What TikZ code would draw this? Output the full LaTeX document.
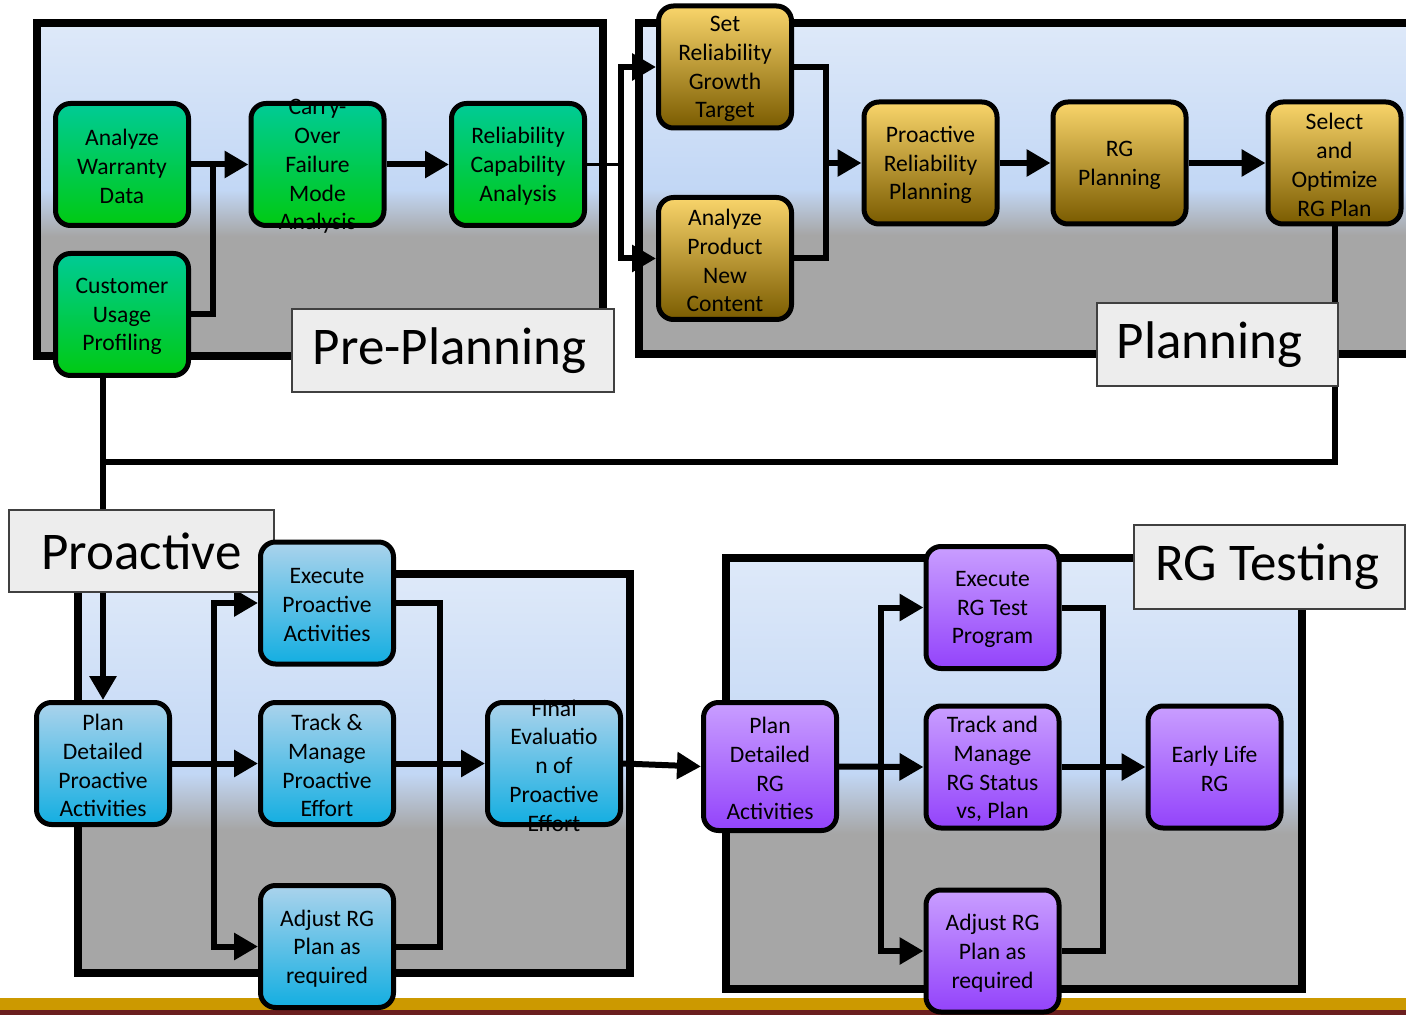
\documentclass[tikz,border=0pt]{standalone}
\usepackage{fontspec}
\setmainfont{Carlito}
\usetikzlibrary{arrows.meta,calc}
\definecolor{contgrey}{HTML}{A6A6A6}
\definecolor{contblueA}{HTML}{DEE9F9}
\definecolor{contblueB}{HTML}{C2D7F5}
\definecolor{lblfill}{HTML}{EDEDED}
\definecolor{lblborder}{HTML}{404040}
\definecolor{gA}{HTML}{00CB96}
\definecolor{gB}{HTML}{00CA12}
\definecolor{oA}{HTML}{F9D56B}
\definecolor{oM}{HTML}{C99A0A}
\definecolor{oB}{HTML}{7A5B00}
\definecolor{cA}{HTML}{ABD3EC}
\definecolor{cM}{HTML}{21D6E0}
\definecolor{cB}{HTML}{13AEE1}
\definecolor{pA}{HTML}{C99EFF}
\definecolor{pB}{HTML}{9343FB}
\definecolor{bargold}{HTML}{CC9900}
\definecolor{barmaroon}{HTML}{6B1F1F}
\pgfdeclareverticalshading{contshade}{100bp}{color(0bp)=(contgrey); color(43bp)=(contgrey); color(50bp)=(contblueB); color(75bp)=(contblueA); color(100bp)=(contblueA)}
\pgfdeclarelayer{bglayer}
\pgfdeclarelayer{connlayer}
\pgfdeclarelayer{lbllayer}
\pgfsetlayers{bglayer,connlayer,lbllayer,main}
\newcommand\bx[1]{\parbox[c][44pt][c]{62pt}{\vspace*{2pt}\centering #1}}
\begin{document}
\begin{tikzpicture}[x=0.5pt,y=-0.5pt,
  conn/.style={line width=3pt},
  arr/.style={line width=3pt,-{Triangle[length=12pt,width=13pt]}},
  cont/.style={draw=black,line width=4pt,shade,shading=contshade},
  lbl/.style={draw=lblborder,fill=lblfill,line width=1pt,inner sep=0pt,font=\fontsize{26.5pt}{30pt}\selectfont},
  box/.style={draw=black,line width=2.5pt,rounded corners=7.5pt,minimum width=66.5pt,minimum height=61pt,inner sep=0pt,font=\fontsize{11.8pt}{14.4pt}\selectfont},
  gbox/.style={box,top color=gA,bottom color=gB},
  obox/.style={box,top color=oA,middle color=oM,bottom color=oB},
  cbox/.style={box,top color=cA,middle color=cM,bottom color=cB},
  pbox/.style={box,top color=pA,bottom color=pB}]
\useasboundingbox (0,0) rectangle (1406,1015);
\clip (0,0) rectangle (1406,1015);
% boxes
\path
  (122,164.5) node[gbox] (aw) {\bx{Analyze\\Warranty\\Data}}
  (317.5,164.5) node[gbox] (co) {\bx{Carry-\\Over\\Failure\\Mode\\Analysis}}
  (518,164.5) node[gbox] (rc) {\bx{Reliability\\Capability\\Analysis}}
  (122,314.5) node[gbox] (cu) {\bx{Customer\\Usage\\Profiling}}
  (725,67) node[obox] (sr) {\bx{Set\\Reliability\\Growth\\Target}}
  (725,258.5) node[obox] (ap) {\bx{Analyze\\Product\\New\\Content}}
  (930.5,163) node[obox] (pr) {\bx{Proactive\\Reliability\\Planning}}
  (1119.5,163) node[obox] (rp) {\bx{RG\\Planning}}
  (1334.5,163) node[obox] (so) {\bx{Select\\and\\Optimize\\RG Plan}}
  (103,763.5) node[cbox] (pd) {\bx{Plan\\Detailed\\Proactive\\Activities}}
  (327,603) node[cbox] (ep) {\bx{Execute\\Proactive\\Activities}}
  (327,763.5) node[cbox] (tm) {\bx{Track \&\\Manage\\Proactive\\Effort}}
  (554,763.5) node[cbox] (fe) {\bx{Final\\Evaluatio\\n of\\Proactive\\Effort}}
  (327,946.5) node[cbox] (ar) {\bx{Adjust RG\\Plan as\\required}}
  (770,766.5) node[pbox,minimum height=64pt] (prg) {\bx{Plan\\Detailed\\RG\\Activities}}
  (992.5,607.5) node[pbox] (ert) {\bx{Execute\\RG Test\\Program}}
  (992.5,767) node[pbox] (trg) {\bx{Track and\\Manage\\RG Status\\vs, Plan}}
  (1214.5,767) node[pbox] (el) {\bx{Early Life\\RG}}
  (992.5,951) node[pbox] (arg) {\bx{Adjust RG\\Plan as\\required}};
% background: bar and containers
\begin{pgfonlayer}{bglayer}
\fill[bargold] (0,998) rectangle (1406,1010);
\fill[barmaroon] (0,1010) rectangle (1406,1015);
\draw[cont] (36.5,23.5) rectangle (602.5,356);
\draw[cont] (638.5,23) rectangle (1420,354.5);
\draw[cont] (78,574) rectangle (629.5,973);
\draw[cont] (726,557.5) rectangle (1301.5,989);
\end{pgfonlayer}
% labels
\begin{pgfonlayer}{lbllayer}
\node[lbl,minimum width=161pt,minimum height=41.5pt] (lpre) at (453,350.5) {Pre-Planning\hspace*{3.5pt}};
\node[lbl,minimum width=120.5pt,minimum height=41.5pt] (lplan) at (1217.5,344.5) {Planning\hspace*{8pt}};
\node[lbl,minimum width=132.5pt,minimum height=41pt] (lpro) at (141.5,551) {Proactive};
\node[lbl,minimum width=135.5pt,minimum height=42pt] (lrgt) at (1269.5,567) {RG Testing\hspace*{2pt}};
\end{pgfonlayer}
% connectors
\begin{pgfonlayer}{connlayer}
\coordinate (j1) at (213,164.5);
\coordinate (j2) at (621,164.5);
\coordinate (j3) at (826,163);
\coordinate (j4) at (103,462);
\coordinate (k1) at (214,763.5);
\coordinate (k2) at (440,763.5);
\coordinate (m1) at (881,766.5);
\coordinate (m2) at (1103,767);
% pre-planning
\draw[arr] (aw.east) -- (co.west);
\draw[conn] (cu.east) -| (j1);
\draw[arr] (co.east) -- (rc.west);
\draw[line width=1.5pt] (rc.east) -- (j2);
\draw[arr] (j2) |- (sr.west);
\draw[arr] (j2) |- (ap.west);
% planning
\draw[conn] (sr.east) -| (j3);
\draw[conn] (ap.east) -| (j3);
\draw[arr] (j3) -- (pr.west);
\draw[arr] (pr.east) -- (rp.west);
\draw[arr] (rp.east) -- (so.west);
\draw[conn] (so.south) |- (j4);
\draw[arr] (cu.south -| pd.north) -- (pd.north);
% proactive
\draw[arr] (pd.east) -- (tm.west);
\draw[arr] (k1) |- (ep.west);
\draw[arr] (k1) |- (ar.west);
\draw[conn] (ep.east) -| (k2);
\draw[conn] (ar.east) -| (k2);
\draw[arr] (tm.east) -- (fe.west);
\draw[arr] (fe.east) -- (prg.west);
% RG testing
\draw[arr] (prg.east) -- (trg.west);
\draw[arr] (m1) |- (ert.west);
\draw[arr] (m1) |- (arg.west);
\draw[conn] (ert.east) -| (m2);
\draw[conn] (arg.east) -| (m2);
\draw[arr] (trg.east) -- (el.west);
\end{pgfonlayer}
\end{tikzpicture}
\end{document}
